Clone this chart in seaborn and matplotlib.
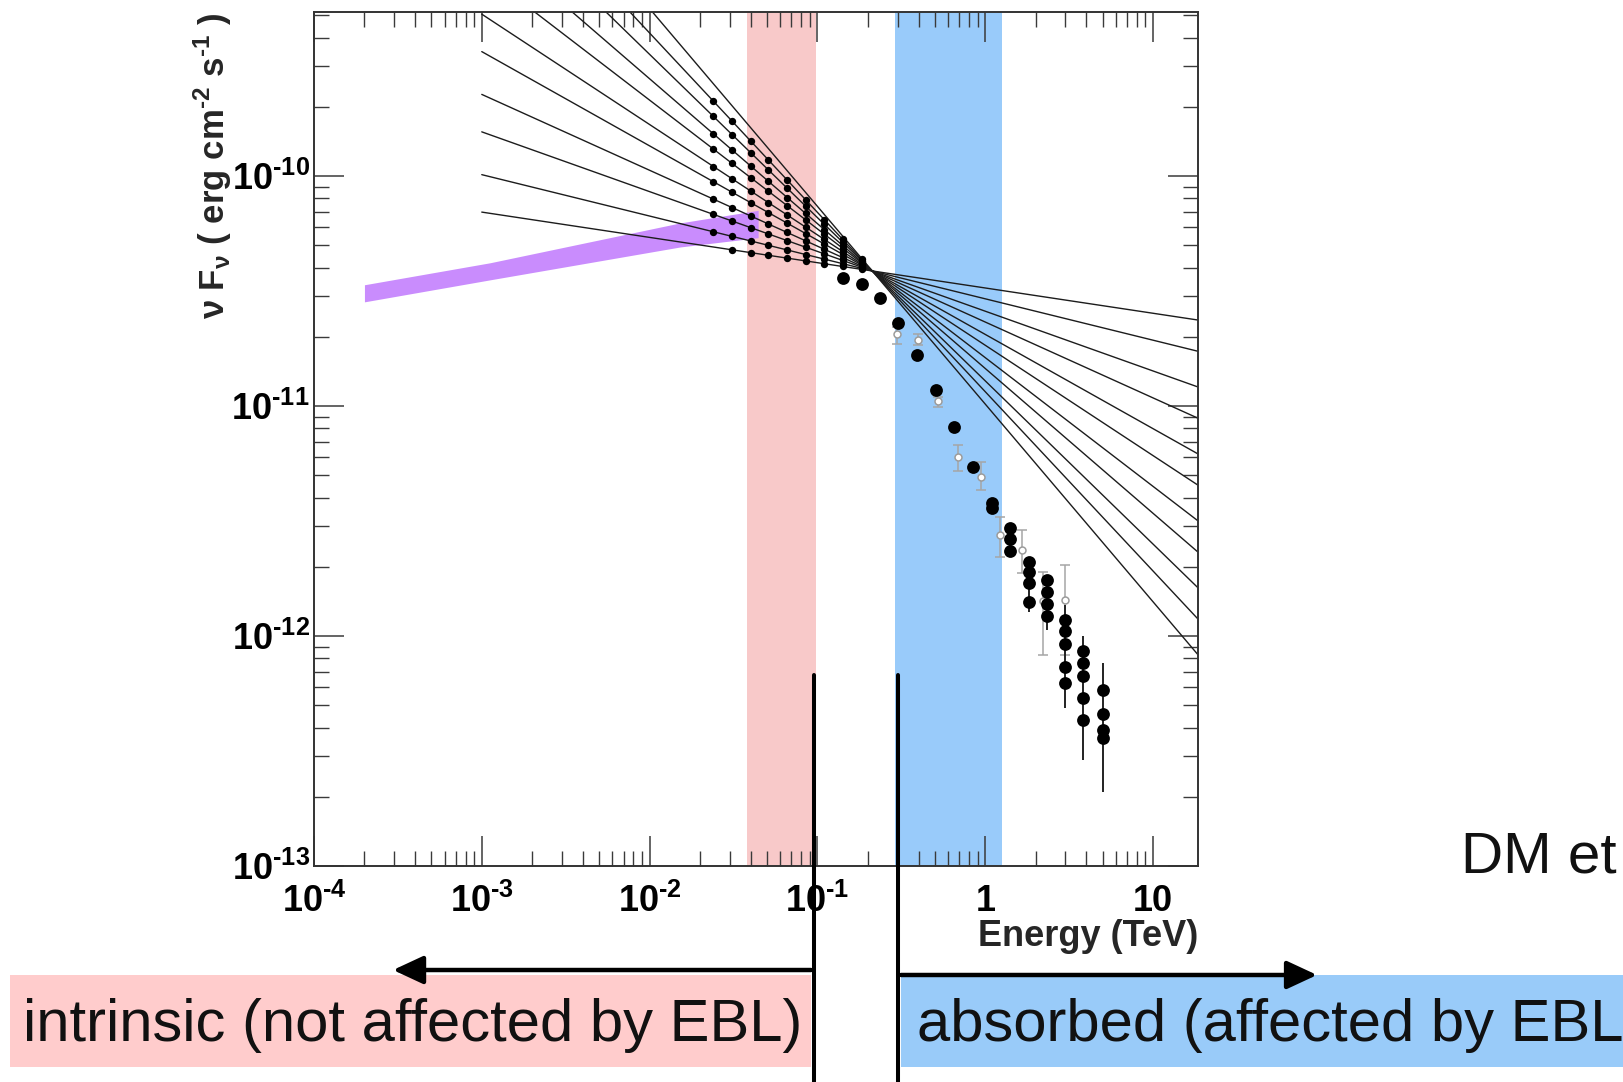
import numpy as np
import pandas as pd
import matplotlib
matplotlib.use("Agg")
import matplotlib.pyplot as plt
import matplotlib.transforms as mtransforms
from matplotlib.patches import Rectangle, FancyArrowPatch
from matplotlib.lines import Line2D
from matplotlib.ticker import FixedLocator, FixedFormatter, LogLocator, NullFormatter
import seaborn as sns

# ---------------------------------------------------------------- data
# family of power-law spectra through a common pivot (photon indices)
pivot_energy = 0.212          # TeV
pivot_flux = 3.87e-11         # erg cm^-2 s^-1
photon_indices = [2.11, 2.18, 2.26, 2.33, 2.41, 2.48, 2.56, 2.63, 2.71, 2.78, 2.86]
fan_energies = [1e-3, 18.5]

# de-absorbed points sampled on the ten hardest spectra
intrinsic_energies = [0.024, 0.031, 0.040, 0.051, 0.066, 0.085, 0.110, 0.141, 0.183]
intrinsic_first_index = [1, 0, 0, 0, 0, 0, 0, 0, 0]
intrinsic_last_index = 9

# observed spectrum (filled points)
obs_energy = [0.141, 0.183, 0.236, 0.303, 0.391, 0.509, 0.652, 0.849, 1.094, 1.094,
              1.41, 1.41, 1.41,
              1.81, 1.81, 1.81, 1.81,
              2.32, 2.32, 2.32, 2.32,
              2.99, 2.99, 2.99, 2.99, 2.99,
              3.83, 3.83, 3.83, 3.83, 3.83,
              5.01, 5.01, 5.01, 5.01]
obs_flux = [3.6e-11, 3.4e-11, 2.95e-11, 2.30e-11, 1.67e-11, 1.18e-11, 8.1e-12, 5.45e-12, 3.8e-12, 3.6e-12,
            2.95e-12, 2.65e-12, 2.35e-12,
            2.1e-12, 1.9e-12, 1.7e-12, 1.4e-12,
            1.75e-12, 1.55e-12, 1.38e-12, 1.22e-12,
            1.18e-12, 1.05e-12, 9.2e-13, 7.3e-13, 6.25e-13,
            8.6e-13, 7.6e-13, 6.7e-13, 5.4e-13, 4.3e-13,
            5.8e-13, 4.6e-13, 3.9e-13, 3.6e-13]
obs_bar_energy = [1.41, 1.81, 2.32, 2.99, 3.83, 5.01]
obs_bar_low = [2.25e-12, 1.27e-12, 1.06e-12, 4.87e-13, 2.9e-13, 2.1e-13]
obs_bar_high = [3.05e-12, 2.2e-12, 1.85e-12, 1.37e-12, 1.0e-12, 7.6e-13]

# second data set (open grey points)
grey_energy = [0.298, 0.399, 0.525, 0.692, 0.940, 1.225, 1.65, 2.22, 2.99]
grey_flux = [2.05e-11, 1.94e-11, 1.05e-11, 6.0e-12, 4.9e-12, 2.75e-12, 2.37e-12, 1.42e-12, 1.44e-12]
grey_low = [1.87e-11, 1.85e-11, 9.9e-12, 5.2e-12, 4.3e-12, 2.2e-12, 1.88e-12, 8.3e-13, 8.3e-13]
grey_high = [2.2e-11, 2.05e-11, 1.1e-11, 6.8e-12, 5.7e-12, 3.3e-12, 2.9e-12, 1.9e-12, 2.04e-12]

# low-energy butterfly
fermi_energy = [2.0e-4, 1.12e-3, 0.0152, 0.0443]
fermi_upper = [3.37e-11, 4.2e-11, 6.26e-11, 7.1e-11]
fermi_lower = [2.84e-11, 3.54e-11, 4.92e-11, 5.4e-11]

# energy ranges
intrinsic_band = [0.038, 0.098]
absorbed_band = [0.288, 1.26]
split_energies = [0.096, 0.302]

x_limits = [1e-4, 18.5]
y_limits = [1e-13, 5.15e-10]
x_tick_values = [1e-4, 1e-3, 1e-2, 1e-1, 1, 10]
x_tick_labels = [r'$\mathdefault{10^{‐4}}$', r'$\mathdefault{10^{‐3}}$', r'$\mathdefault{10^{‐2}}$',
                 r'$\mathdefault{10^{‐1}}$', '1', '10']
y_tick_values = [1e-13, 1e-12, 1e-11, 1e-10]
y_tick_labels = [r'$\mathdefault{10^{‐13}}$', r'$\mathdefault{10^{‐12}}$',
                 r'$\mathdefault{10^{‐11}}$', r'$\mathdefault{10^{‐10}}$']

# ---------------------------------------------------------------- tables
fan_rows = []
for i, gamma in enumerate(photon_indices):
    for e in fan_energies:
        fan_rows.append({"spectrum": i, "energy": e,
                         "flux": pivot_flux * (e / pivot_energy) ** (2.0 - gamma)})
fan_df = pd.DataFrame(fan_rows)

dot_rows = []
for e, first in zip(intrinsic_energies, intrinsic_first_index):
    for gamma in photon_indices[first:intrinsic_last_index + 1]:
        dot_rows.append({"energy": e,
                         "flux": pivot_flux * (e / pivot_energy) ** (2.0 - gamma)})
dot_df = pd.DataFrame(dot_rows)
obs_df = pd.DataFrame({"energy": obs_energy, "flux": obs_flux})

# ---------------------------------------------------------------- style
sns.set_theme(style="white")
plt.rcParams["font.family"] = ["Liberation Sans", "DejaVu Sans"]

fig = plt.figure(figsize=(16.24, 10.82), dpi=100)
ax = fig.add_axes([0.1933, 0.1996, 0.5444, 0.7889])

# shaded energy ranges
ax.axvspan(*intrinsic_band, color="#f8c9c9", lw=0, zorder=0)
ax.axvspan(*absorbed_band, color="#99cbfa", lw=0, zorder=0)

# butterfly
ax.fill_between(fermi_energy, fermi_lower, fermi_upper, color="#c98cfd", lw=0, zorder=1)

# power-law fan
sns.lineplot(data=fan_df, x="energy", y="flux", units="spectrum", estimator=None,
             color="#1c1c1c", lw=1.0, legend=False, ax=ax, zorder=2)

# open grey points
ax.errorbar(grey_energy, grey_flux,
            yerr=[np.array(grey_flux) - np.array(grey_low), np.array(grey_high) - np.array(grey_flux)],
            fmt="o", ms=5, mfc="white", mec="#9c9c9c", mew=1.1,
            ecolor="#a6a6a6", elinewidth=1.1, capsize=3.8, capthick=1.1, zorder=3)

# observed error bars and points
ax.vlines(obs_bar_energy, obs_bar_low, obs_bar_high, color="#222222", lw=1.4, zorder=4)
sns.scatterplot(data=obs_df, x="energy", y="flux", color="black", s=85,
                linewidth=0, legend=False, ax=ax, zorder=5)
sns.scatterplot(data=dot_df, x="energy", y="flux", color="black", s=28,
                linewidth=0, legend=False, ax=ax, zorder=5)

# axes
ax.set_xscale("log")
ax.set_yscale("log")
ax.set_xlim(*x_limits)
ax.set_ylim(*y_limits)
ax.set_xlabel("")
ax.set_ylabel("")

ax.xaxis.set_major_locator(FixedLocator(x_tick_values))
ax.xaxis.set_major_formatter(FixedFormatter(x_tick_labels))
ax.yaxis.set_major_locator(FixedLocator(y_tick_values))
ax.yaxis.set_major_formatter(FixedFormatter(y_tick_labels))
ax.xaxis.set_minor_locator(LogLocator(base=10, subs=np.arange(2, 10), numticks=30))
ax.yaxis.set_minor_locator(LogLocator(base=10, subs=np.arange(2, 10), numticks=30))
ax.xaxis.set_minor_formatter(NullFormatter())
ax.yaxis.set_minor_formatter(NullFormatter())

ax.tick_params(which="both", direction="in", bottom=True, top=True, left=True, right=True,
               color="#3a3a3a", labelcolor="black")
ax.tick_params(which="major", length=21.5, width=1.1)
ax.tick_params(which="minor", length=10.8, width=1.0)
ax.tick_params(axis="x", which="major", pad=13)
ax.tick_params(axis="y", which="major", pad=3)
for lab in ax.get_xticklabels() + ax.get_yticklabels():
    lab.set_fontsize(26)
    lab.set_fontweight("bold")

for sp in ax.spines.values():
    sp.set_color("#333333")
    sp.set_linewidth(1.4)
    sp.set_visible(True)

ax.text(1.0, -0.083, "Energy (TeV)", transform=ax.transAxes, ha="right", va="center",
        fontsize=26, fontweight="bold")
ax.text(-0.114, 1.0,
        r"ν F$_{\mathdefault{ν}}$ ( erg cm$^{\mathdefault{‐2}}$ s$^{\mathdefault{‐1}}$ )",
        transform=ax.transAxes, rotation=90, ha="center", va="top",
        fontsize=25, fontweight="bold")

# ---------------------------------------------------------------- annotation below
split_trans = mtransforms.blended_transform_factory(ax.transData, fig.transFigure)
for e in split_energies:
    fig.add_artist(Line2D([e, e], [0.0, 0.376], transform=split_trans,
                          color="black", lw=2.9, zorder=6, clip_on=False))

fig.add_artist(Rectangle((0.0062, 0.0139), 0.4932, 0.085, transform=fig.transFigure,
                         facecolor="#ffcccc", edgecolor="none", zorder=1))
fig.add_artist(Rectangle((0.5548, 0.0139), 0.4452, 0.085, transform=fig.transFigure,
                         facecolor="#99cbf9", edgecolor="none", zorder=1))

fig.text(0.0142, 0.0379, "intrinsic (not affected by EBL)", ha="left", va="baseline",
         fontsize=43, color="#111111", zorder=4)
fig.text(0.5647, 0.0379, "absorbed (affected by EBL)", ha="left", va="baseline",
         fontsize=43, color="#111111", zorder=4)
fig.text(0.8996, 0.194, "DM et al.", ha="left", va="baseline",
         fontsize=42, color="#111111")

arrow_style = "-|>,head_length=18.5,head_width=8.6"
fig.add_artist(FancyArrowPatch((0.4994, 0.1035), (0.2420, 0.1035), transform=fig.transFigure,
                               arrowstyle=arrow_style, mutation_scale=1, lw=3.2,
                               color="black", shrinkA=0, shrinkB=0, zorder=5))
fig.add_artist(FancyArrowPatch((0.5548, 0.0989), (0.8110, 0.0989), transform=fig.transFigure,
                               arrowstyle=arrow_style, mutation_scale=1, lw=3.2,
                               color="black", shrinkA=0, shrinkB=0, zorder=5))

fig.savefig("out.png", dpi=100, facecolor="white")
